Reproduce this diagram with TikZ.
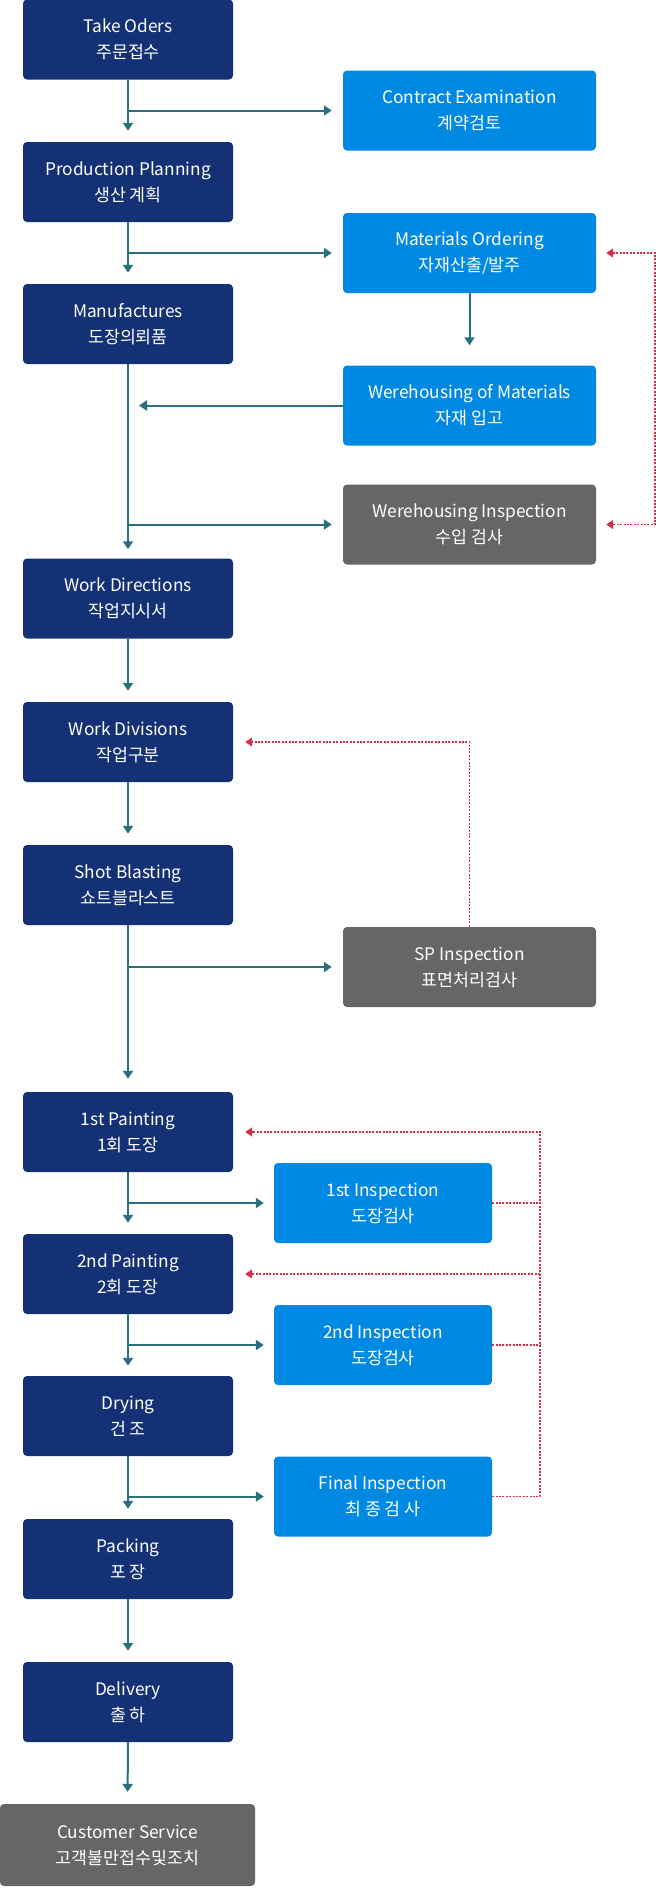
\documentclass[tikz,border=0pt]{standalone}
\usepackage{fontspec}
\setmainfont{Noto Sans CJK KR}
\usetikzlibrary{arrows.meta,calc}
\definecolor{navyc}{HTML}{133174}
\definecolor{bluec}{HTML}{0089E3}
\definecolor{grayc}{HTML}{666666}
\definecolor{tealc}{HTML}{2A6F7E}
\definecolor{redc}{HTML}{D42F49}
\tikzset{rtip/.tip={Triangle[width=9pt,length=7pt]}}
\begin{document}
\begin{tikzpicture}[x=1pt,y=-1pt,
  base/.style={rounded corners=4pt, text=white, align=center, inner sep=0pt,
    font={\fontsize{17.3}{26}\selectfont}, minimum height=80pt},
  navybox/.style={base, fill=navyc, minimum width=210pt},
  bluebox/.style={base, fill=bluec, minimum width=253pt},
  graybox/.style={base, fill=grayc, minimum width=253pt},
  inspbox/.style={base, fill=bluec, minimum width=218pt},
  tl/.style={draw=tealc, line width=2pt, -{Triangle[width=10pt,length=8pt]}},
  rd/.style={draw=redc, line width=1.5pt, dash pattern=on 2pt off 1.4pt}
]
\useasboundingbox (0,0) rectangle (656,1888);
% left column
\node[navybox] (to)  at (128,39.5)  {Take Oders\\주문접수};
\node[navybox] (pp)  at (128,182)   {Production Planning\\생산 계획};
\node[navybox] (mf)  at (128,324)   {Manufactures\\도장의뢰품};
\node[navybox] (wdr) at (128,598.5) {Work Directions\\작업지시서};
\node[navybox] (wdv) at (128,742)   {Work Divisions\\작업구분};
\node[navybox] (sb)  at (128,885)   {Shot Blasting\\쇼트블라스트};
\node[navybox] (p1)  at (128,1132)  {1st Painting\\1회 도장};
\node[navybox] (p2)  at (128,1274)  {2nd Painting\\2회 도장};
\node[navybox] (dry) at (128,1416)  {Drying\\건 조};
\node[navybox] (pk)  at (128,1559)  {Packing\\포 장};
\node[navybox] (dl)  at (128,1702)  {Delivery\\출 하};
\node[graybox, minimum width=255pt, minimum height=82pt] (cs) at (127.5,1845) {Customer Service\\고객불만접수및조치};
% right column
\node[bluebox] (ce)  at (469.5,110.5) {Contract Examination\\계약검토};
\node[bluebox] (mo)  at (469.5,253)   {Materials Ordering\\자재산출/발주};
\node[bluebox] (wom) at (469.5,405.5) {Werehousing of Materials\\자재 입고};
\node[graybox] (wi)  at (469.5,524.5) {Werehousing Inspection\\수입 검사};
\node[graybox] (sp)  at (469.5,967)   {SP Inspection\\표면처리검사};
\node[inspbox] (i1)  at (383,1203)    {1st Inspection\\도장검사};
\node[inspbox] (i2)  at (383,1345)    {2nd Inspection\\도장검사};
\node[inspbox] (fi)  at (383,1496.5)  {Final Inspection\\최 종 검 사};
\coordinate (rx) at (540,0);
% vertical flow
\draw[tl, shorten >=11pt] (to.south) -- (pp.north);
\draw[tl, shorten >=11pt] (pp.south) -- (mf.north);
\draw[tl, shorten >=9pt]  (mf.south) -- (wdr.north);
\draw[tl, shorten >=11pt] (wdr.south) -- (wdv.north);
\draw[tl, shorten >=11pt] (wdv.south) -- (sb.north);
\draw[tl, shorten >=13pt] (sb.south) -- (p1.north);
\draw[tl, shorten >=11pt] (p1.south) -- (p2.north);
\draw[tl, shorten >=10pt] (p2.south) -- (dry.north);
\draw[tl, shorten >=10pt] (dry.south) -- (pk.north);
\draw[tl, shorten >=11pt] (pk.south) -- (dl.north);
\draw[tl, shorten >=12pt] (dl.south) -- (cs.north);
% branches
\draw[tl, shorten >=11pt] (to.south |- ce.west) -- (ce.west);
\draw[tl, shorten >=11pt] (pp.south |- mo.west) -- (mo.west);
\draw[tl, shorten >=20pt] (mo.south) -- (wom.north);
\draw[tl, shorten >=11pt] (wom.west) -- (mf.south |- wom.west);
\draw[tl, shorten >=11pt] (mf.south |- wi.west) -- (wi.west);
\draw[tl, shorten >=11pt] (sb.south |- sp.west) -- (sp.west);
\draw[tl, shorten >=10pt] (p1.south |- i1.west) -- (i1.west);
\draw[tl, shorten >=10pt] (p2.south |- i2.west) -- (i2.west);
\draw[tl, shorten >=10pt] (dry.south |- fi.west) -- (fi.west);
% red feedback
\draw[rd, rtip-rtip, shorten <=10pt, shorten >=10pt] (mo.east) -- ([xshift=59pt]mo.east) |- (wi.east);
\draw[rd, -rtip, shorten >=12pt] (sp.north) |- (wdv.east);
\draw[rd] (i1.east) -- (i1.east -| rx);
\draw[rd] (i2.east) -- (i2.east -| rx);
\draw[rd, -rtip, shorten >=12pt] (fi.east) -| (rx |- p1.east) -- (p1.east);
\draw[rd, -rtip, shorten >=12pt] (rx |- p2.east) -- (p2.east);
\end{tikzpicture}
\end{document}
